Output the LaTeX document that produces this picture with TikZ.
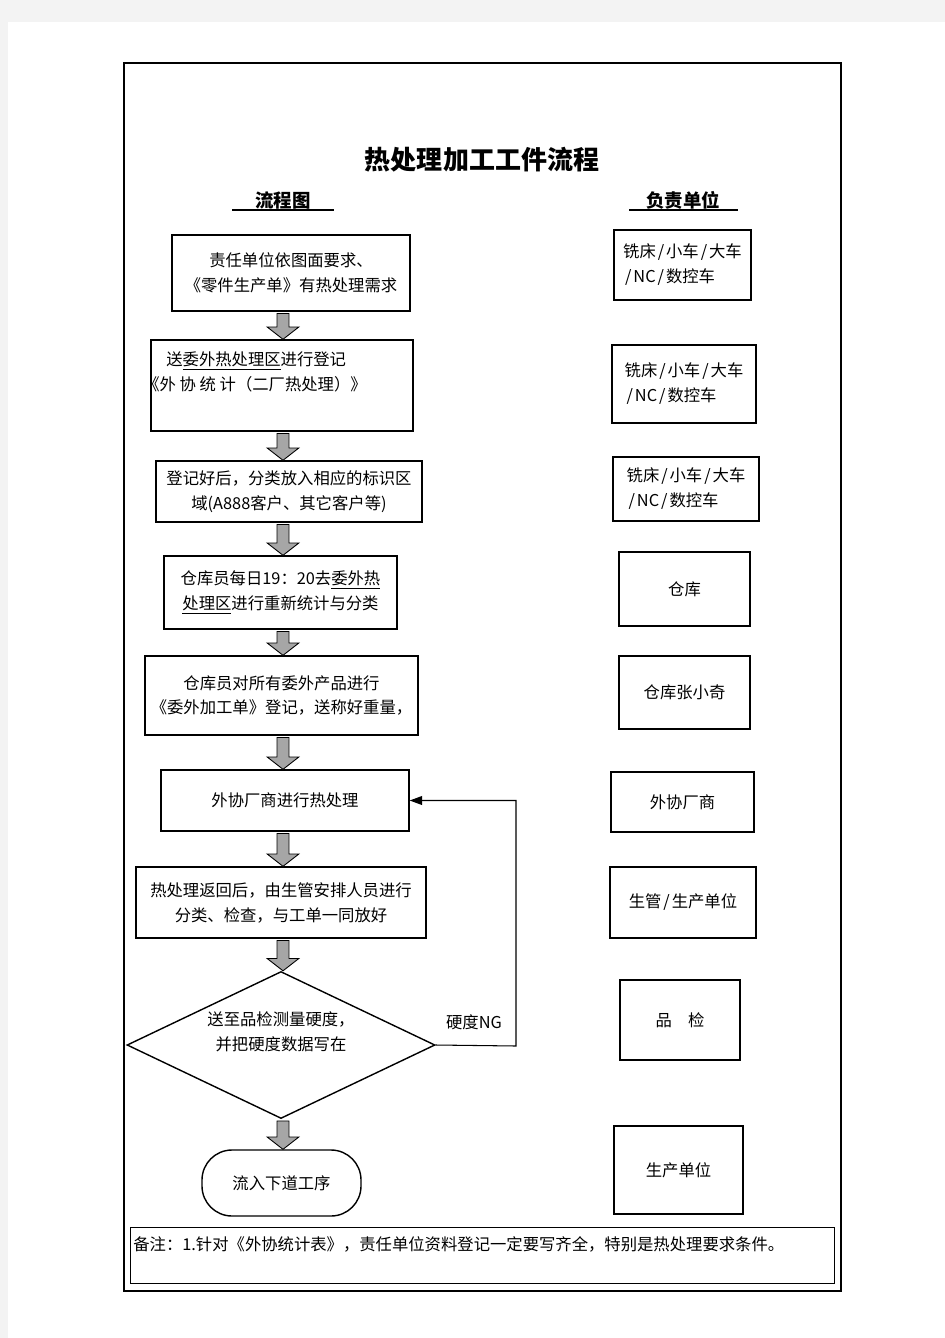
\documentclass[tikz,border=0pt]{standalone}
\usepackage{fontspec}
\setmainfont{Noto Sans CJK SC}
\usetikzlibrary{
    positioning,
    arrows.meta,
    calc,
    shapes.geometric
}

\definecolor{pagegray}{HTML}{F3F3F3}
\definecolor{arrowgray}{HTML}{A6A6A6}

% slash with a little air, as in the unit names
\newcommand{\unitsl}{\hspace{0.12em}/\hspace{0.12em}}

% fat grey arrow between two steps
\newcommand{\blockarrow}[2]{%
  \filldraw[fill=arrowgray, draw=black, line width=0.5pt]
    let \p1=(#1.south), \p2=(#2.north), \p3=(flowcol) in
    (\x3-3.4pt,\y1-1pt) -- (\x3+3.4pt,\y1-1pt) -- (\x3+3.4pt,\y2+7pt)
    -- (\x3+9pt,\y2+7pt) -- (\x3,\y2) -- (\x3-9pt,\y2+7pt)
    -- (\x3-3.4pt,\y2+7pt) -- cycle;}

\begin{document}
\begin{tikzpicture}[x=0.02cm, y=-0.02cm,
    every node/.style={font=\fontsize{9.3pt}{14.2pt}\selectfont},
    wh/.style 2 args={minimum width=#1*0.02cm, minimum height=#2*0.02cm},
    box/.style={draw, line width=0.8pt, align=center, inner sep=0pt},
    unitbox/.style={draw, line width=0.9pt, align=center, inner sep=0pt}]

      \fill[pagegray] (0,0) rectangle (945,1338);
      \fill[white] (8,22) rectangle (945,1338);
      \useasboundingbox (0,0) rectangle (945,1338);

      \draw[line width=1.6pt] (124,63) rectangle (841,1291);

      \node[font=\fontsize{14.8pt}{18pt}\selectfont\bfseries] (title) at (482,160) {热处理加工工件流程};
      \node[font=\fontsize{10.5pt}{12pt}\selectfont\bfseries] (hflow) at (283,200) {流程图};
      \node[font=\fontsize{10.5pt}{12pt}\selectfont\bfseries] (hunit) at (683,200) {负责单位};
      \draw[line width=0.6pt] (232,210) -- (334,210);
      \draw[line width=0.6pt] (629,210) -- (738,210);

      \coordinate (flowcol) at (283,0);

      % flow steps
      \node[box, wh={238}{76}] (s1) at (291,273) {责任单位依图面要求、\\《零件生产单》有热处理需求};
      \node[box, wh={262}{91}] (s2) at (282,385.5) {};
      \node[anchor=north west, align=left, inner sep=0pt] (s2text) at (143,351)
        {\hspace*{0.46cm}送\underline{委外热处理区}进行登记\\《外 协 统 计（二厂热处理）》};
      \node[box, wh={266}{61}] (s3) at (289,491.5) {登记好后，分类放入相应的标识区\\域(A888客户、其它客户等)};
      \node[box, wh={233}{73}] (s4) at (280.5,592.5) {仓库员每日19：20去\underline{委外热}\\\underline{处理区}进行重新统计与分类};
      \node[box, wh={273}{79}] (s5) at (281.5,695.5) {仓库员对所有委外产品进行\\《委外加工单》登记，送称好重量，};
      \node[box, wh={248}{61}] (s6) at (285,800.5) {外协厂商进行热处理};
      \node[box, wh={290}{71}] (s7) at (281,902.5) {热处理返回后，由生管安排人员进行\\分类、检查，与工单一同放好};
      \node[draw, line width=0.8pt, diamond, inner sep=0pt, wh={308}{147}] (check) at (281,1045) {};
      \node[align=center] (checktext) at (281,1032) {送至品检测量硬度，\\并把硬度数据写在};
      \node[box, rounded corners=0.6cm, wh={159}{66}] (done) at (281.5,1183) {流入下道工序};

      \blockarrow{s1}{s2}
      \blockarrow{s2}{s3}
      \blockarrow{s3}{s4}
      \blockarrow{s4}{s5}
      \blockarrow{s5}{s6}
      \blockarrow{s6}{s7}
      \blockarrow{s7}{check}
      \blockarrow{check}{done}

      % hardness not ok: back to the supplier
      \coordinate (ngturn) at (516,1046);
      \draw[line width=0.6pt, -{Triangle[length=7pt,width=5pt]}] (check.east) -- (ngturn) |- (s6.east);
      \node (nglabel) at (474,1022) {硬度NG};

      % responsible units
      \node[unitbox, align=left, wh={137}{70}] (u1) at (682.5,265) {铣床\unitsl 小车\unitsl 大车\\\unitsl NC\unitsl 数控车};
      \node[unitbox, align=left, wh={144}{78}] (u2) at (684,384) {铣床\unitsl 小车\unitsl 大车\\\unitsl NC\unitsl 数控车};
      \node[unitbox, align=left, wh={146}{64}] (u3) at (686,489) {铣床\unitsl 小车\unitsl 大车\\\unitsl NC\unitsl 数控车};
      \node[unitbox, wh={131}{74}] (u4) at (684.5,589) {仓库};
      \node[unitbox, wh={131}{73}] (u5) at (684.5,692.5) {仓库张小奇};
      \node[unitbox, wh={143}{60}] (u6) at (682.5,802) {外协厂商};
      \node[unitbox, wh={146}{71}] (u7) at (683,902.5) {生管\unitsl 生产单位};
      \node[unitbox, wh={120}{80}] (u8) at (680,1020) {品　检};
      \node[unitbox, wh={129}{88}] (u9) at (678.5,1170) {生产单位};

      \node[draw, line width=0.8pt, anchor=north west, inner sep=0pt, wh={704}{56}] (note) at (130,1227) {};
      \node[anchor=west, inner sep=0pt] (notetext) at (133,1244) {备注：1.针对《外协统计表》，责任单位资料登记一定要写齐全，特别是热处理要求条件。};
    \end{tikzpicture}
\end{document}
